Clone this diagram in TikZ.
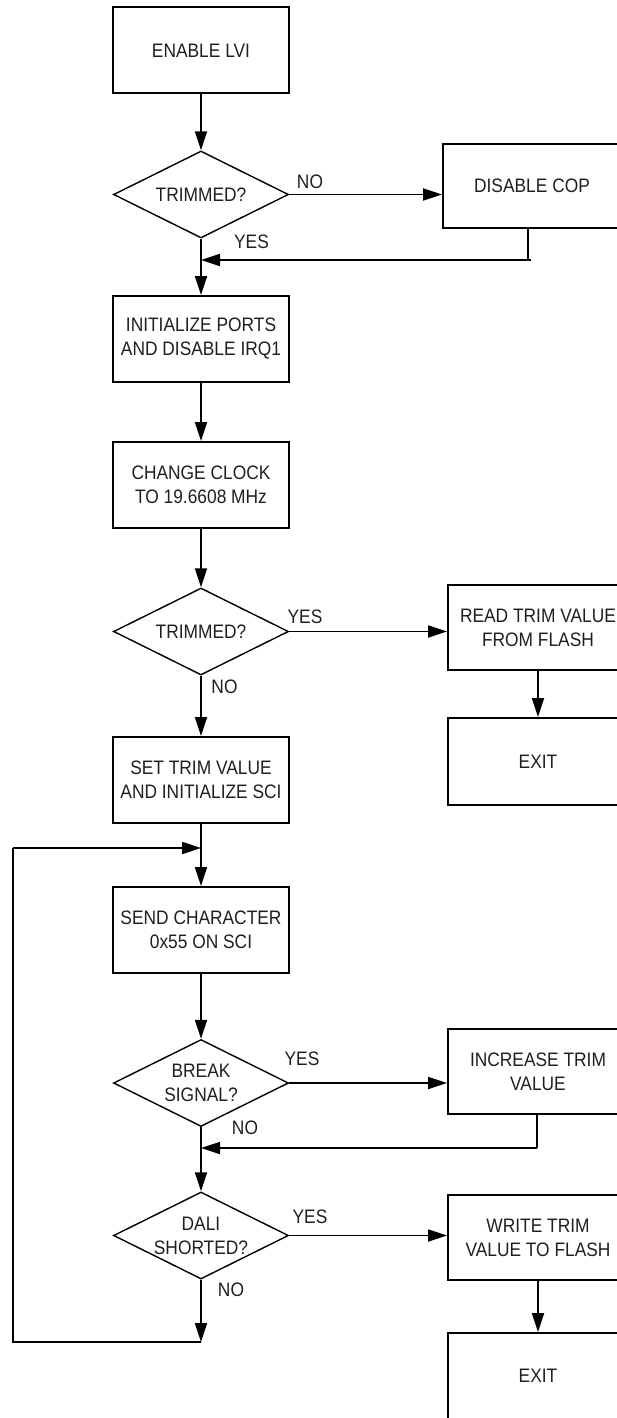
\documentclass[tikz,border=0pt]{standalone}
\usepackage{fontspec}
\setmainfont[FakeStretch=0.89]{Liberation Sans}
\usetikzlibrary{arrows.meta,shapes.geometric}
\newcommand\flowfont{\fontsize{19.5}{24}\selectfont}
\begin{document}
\begin{tikzpicture}[x=1pt,y=-1pt,
  box/.style={draw, line width=2pt, minimum width=176pt, minimum height=86pt, inner sep=0pt, align=center, font=\flowfont, text=black!88},
  rbox/.style={box, minimum width=180pt},
  dia/.style={draw, diamond, line width=1.4pt, minimum width=175pt, minimum height=87pt, inner sep=0pt},
  txt/.style={align=center, inner sep=0pt, font=\flowfont, text=black!88},
  lbl/.style={inner sep=0pt, font=\flowfont, text=black!88},
  conn/.style={line width=1.8pt},
  arr/.style={conn, -{Triangle[length=19pt,width=12pt]}}]
\useasboundingbox (0,0) rectangle (616,1418);
% main column
\node[box] (enable) at (201,50.5) {ENABLE LVI};
\node[dia] (d1) at (201,194.5) {};
\node[txt] (d1t) at (d1) {TRIMMED?};
\node[rbox, minimum width=178pt, minimum height=84pt] (dcop) at (532,186) {DISABLE COP};
\node[box] (init) at (201,339) {INITIALIZE PORTS\\AND DISABLE IRQ1};
\node[box] (clock) at (201,485) {CHANGE CLOCK\\TO 19.6608 MHz};
\node[dia] (d2) at (201,631.5) {};
\node[txt] (d2t) at (d2) {TRIMMED?};
\node[rbox, minimum height=85pt] (read) at (538,627.5) {READ TRIM VALUE\\FROM FLASH};
\node[rbox, minimum height=87pt] (exit1) at (538,761.5) {EXIT};
\node[box] (set) at (201,780) {SET TRIM VALUE\\AND INITIALIZE SCI};
\coordinate (loopin) at (201,848);
\node[box] (send) at (201,930) {SEND CHARACTER\\0x55 ON SCI};
\node[dia] (d3) at (201,1083) {};
\node[txt] (d3t) at (d3) {BREAK\\SIGNAL?};
\node[rbox, minimum height=85pt] (inc) at (538,1071.5) {INCREASE TRIM\\VALUE};
\coordinate (r2) at (537,1148);
\node[dia] (d4) at (201,1235.5) {};
\node[txt] (d4t) at (d4) {DALI\\SHORTED?};
\node[rbox, minimum height=85pt] (write) at (538,1237.5) {WRITE TRIM\\VALUE TO FLASH};
\node[rbox] (exit2) at (538,1376) {EXIT};
\coordinate (r1) at (528,260);
\coordinate (r1e) at (531,260);
\coordinate (lb) at (201,1342);
\coordinate (ll) at (13,1342);
% labels
\node[lbl] (no1) at (310,182) {NO};
\node[lbl] (yes1) at (251.5,242) {YES};
\node[lbl] (yes2) at (305,617) {YES};
\node[lbl] (no2) at (224.5,687) {NO};
\node[lbl] (yes3) at (302,1059) {YES};
\node[lbl] (no3) at (245,1128) {NO};
\node[lbl] (yes4) at (310,1217) {YES};
\node[lbl] (no4) at (231,1290) {NO};
% connectors
\draw[arr] (enable.south) -- (d1.north);
\draw[arr] (d1.east) -- (d1.east -| dcop.west);
\draw[conn] (dcop.south -| r1) -- (r1);
\draw[arr] (r1e) -- (r1 -| d1.south);
\draw[arr] (d1.south) -- (init.north);
\draw[arr] (init.south) -- (clock.north);
\draw[arr] (clock.south) -- (d2.north);
\draw[arr] (d2.east) -- (d2.east -| read.west);
\draw[arr] (read.south) -- (exit1.north);
\draw[arr] (d2.south) -- (set.north);
\draw[arr] (set.south) -- (send.north);
\draw[arr] (send.south) -- (d3.north);
\draw[arr] (d3.east) -- (d3.east -| inc.west);
\draw[conn] (inc.south -| r2) -- (r2);
\draw[arr] (r2) -- (r2 -| d3.south);
\draw[arr] (d3.south) -- (d4.north);
\draw[arr] (d4.east) -- (d4.east -| write.west);
\draw[arr] (write.south) -- (exit2.north);
\draw[arr] (d4.south) -- (lb);
\draw[conn] (lb) -- (ll) -- (ll |- loopin);
\draw[arr] (ll |- loopin) -- (loopin);
\end{tikzpicture}
\end{document}
